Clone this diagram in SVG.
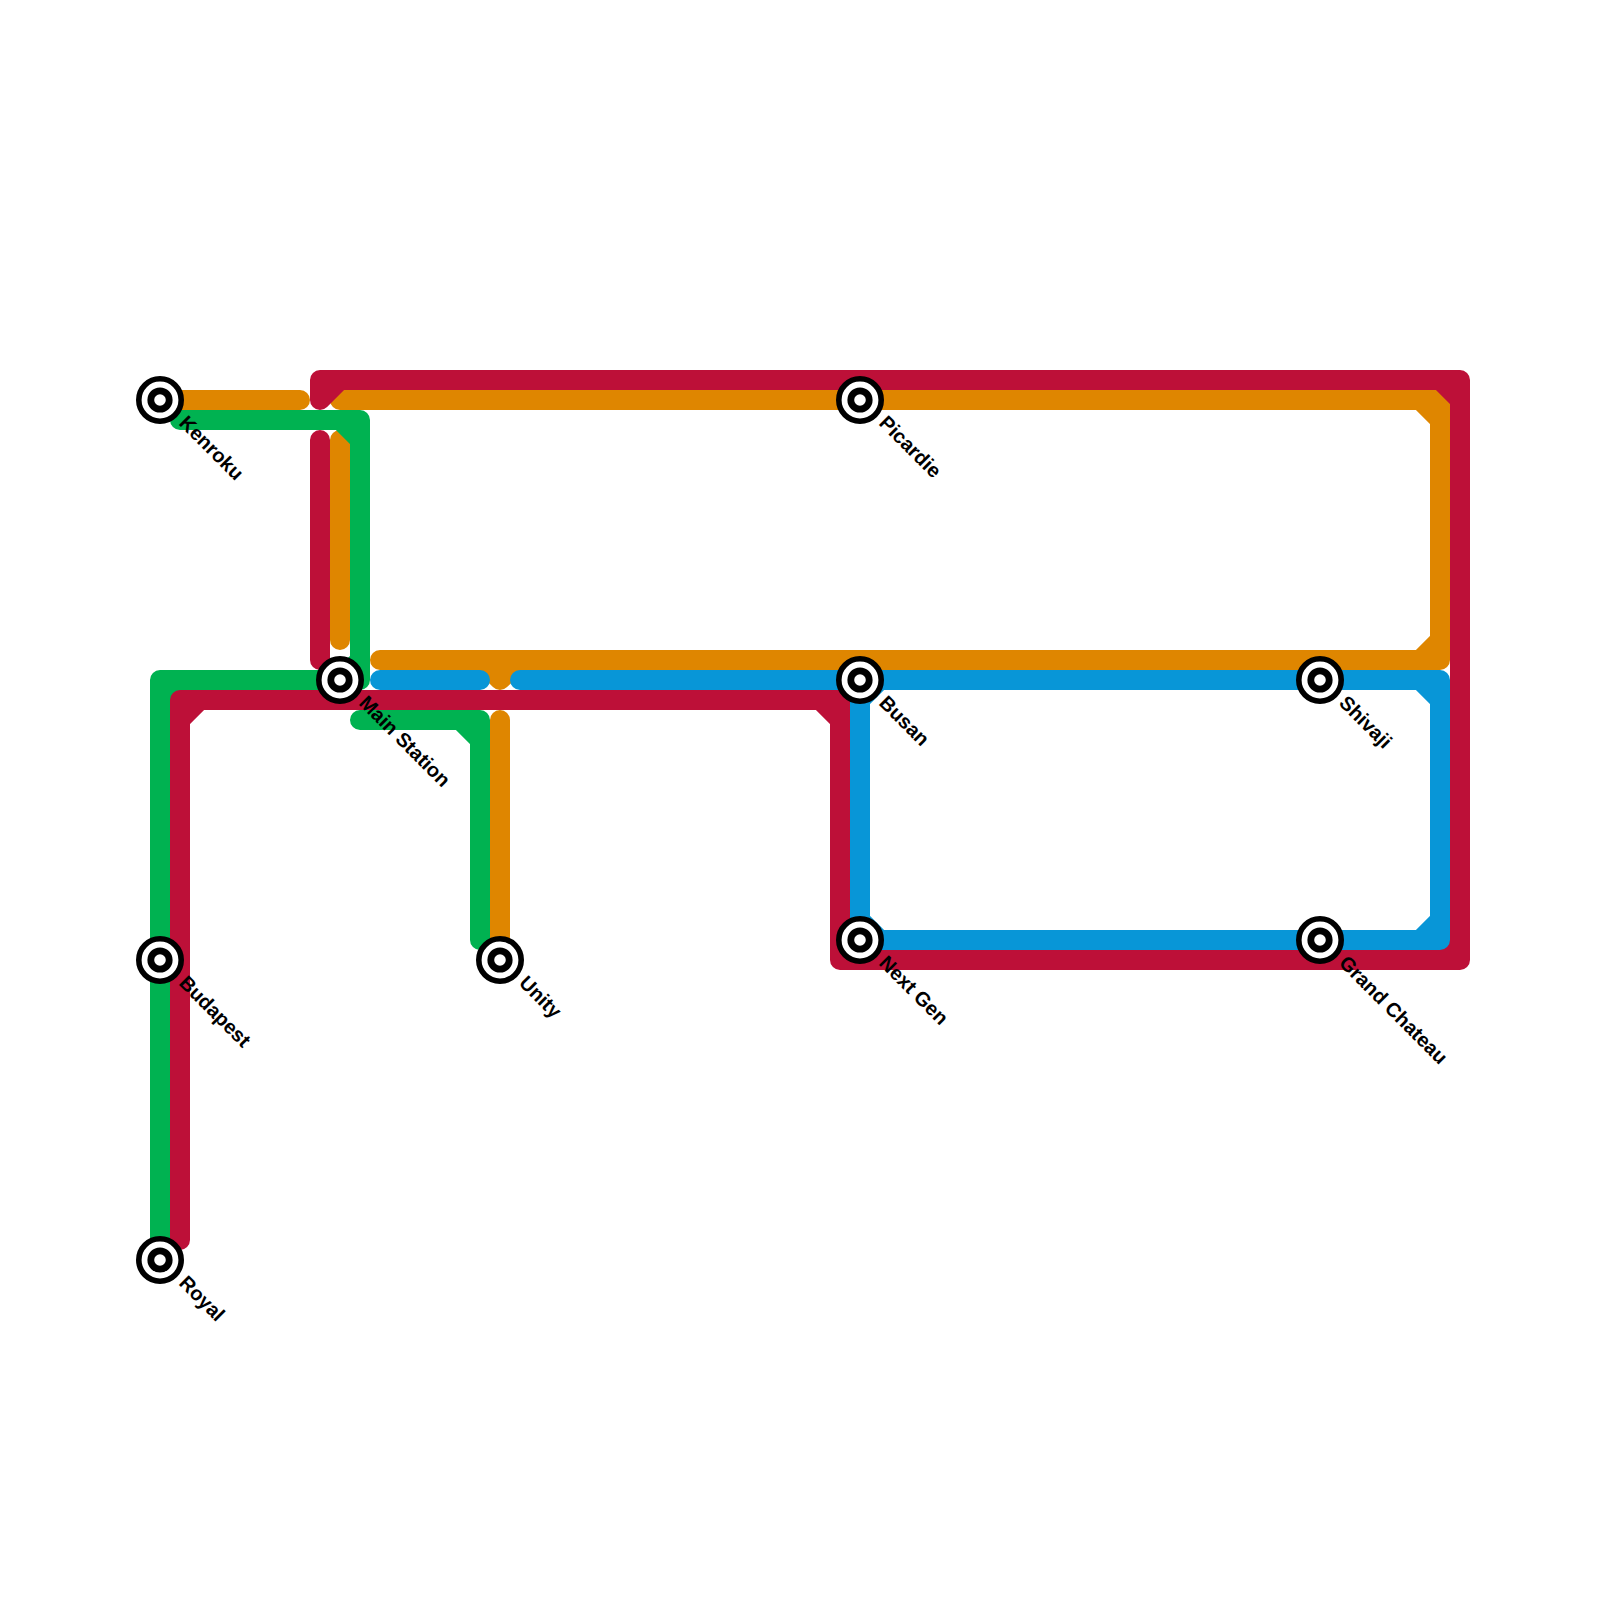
<svg xmlns="http://www.w3.org/2000/svg" width="1600" height="1600" viewBox="0 0 1600 1600">
<style>
.l{fill:none;stroke-width:20;stroke-linecap:round;stroke-linejoin:round}
.o{stroke:#DF8600}.g{stroke:#00B251}.r{stroke:#BD1038}.b{stroke:#0896D7}
.s1{fill:#fff;stroke:#000;stroke-width:5.6}
.s2{fill:#fff;stroke:#000;stroke-width:6.8}
text{font-family:"Liberation Sans",Arial,sans-serif;font-size:20px;font-weight:700;fill:#000;text-rendering:geometricPrecision}
</style>
<defs>
<g id="st"><circle class="s1" r="21.2"/><circle class="s2" r="9.2"/></g>
</defs>
<rect width="1600" height="1600" fill="#fff"/>
<g id="connectors">
<path class="l o" d="M160,400H300M340,640V440M340,400H1440V660H380M1420,400L1440,420M1420,660L1440,640M480,660L500,680L520,660M500,660V680M500,720V960"/>
<path class="l g" d="M180,420H360V680H160V1260M340,420L360,440M340,680L360,660M160,700L180,680M360,720H480V940M460,720L480,740"/>
<path class="l r" d="M320,660V440M320,400V380H1460V960H840V700H180V1240M320,400L340,380M1440,380L1460,400M1440,960L1460,940M820,700L840,720M840,940L860,960M180,720L200,700"/>
<path class="l b" d="M380,680H480M520,680H1440V940H860V680M1420,680L1440,700M1420,940L1440,920M860,700L880,680M860,920L880,940"/>
</g>
<g id="kenroku"><use href="#st" x="160" y="400"/><text transform="translate(178,424) rotate(45)">Kenroku</text></g>
<g id="picardie"><use href="#st" x="860" y="400"/><text transform="translate(878,424) rotate(45)">Picardie</text></g>
<g id="main-station"><use href="#st" x="340" y="680"/><text transform="translate(358,704) rotate(45)">Main Station</text></g>
<g id="busan"><use href="#st" x="860" y="680"/><text transform="translate(878,704) rotate(45)">Busan</text></g>
<g id="shivaji"><use href="#st" x="1320" y="680"/><text transform="translate(1338,704) rotate(45)">Shivaji</text></g>
<g id="budapest"><use href="#st" x="160" y="960"/><text transform="translate(178,984) rotate(45)">Budapest</text></g>
<g id="unity"><use href="#st" x="500" y="960"/><text transform="translate(518,984) rotate(45)">Unity</text></g>
<g id="next-gen"><use href="#st" x="860" y="940"/><text transform="translate(878,964) rotate(45)">Next Gen</text></g>
<g id="grand-chateau"><use href="#st" x="1320" y="940"/><text transform="translate(1338,964) rotate(45)">Grand Chateau</text></g>
<g id="royal"><use href="#st" x="160" y="1260"/><text transform="translate(178,1284) rotate(45)">Royal</text></g>
</svg>
